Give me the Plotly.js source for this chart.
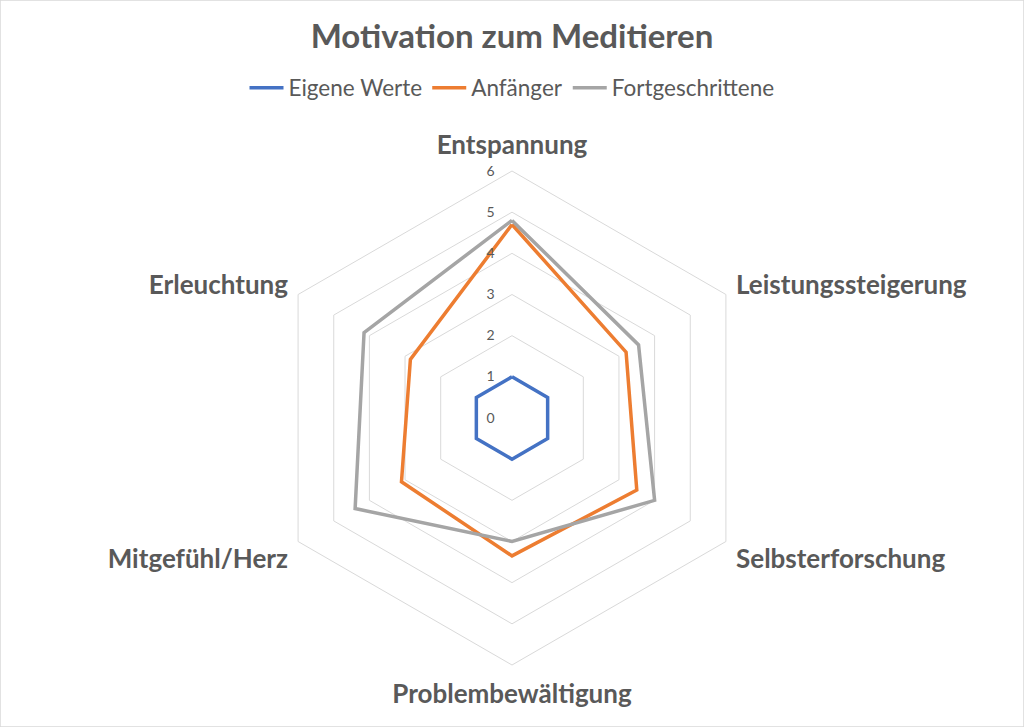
<!DOCTYPE html>
<html>
<head>
<meta charset="utf-8">
<script src="https://cdn.plot.ly/plotly-3.0.1.min.js"></script>
<style>
  html, body { margin: 0; padding: 0; background: #fff; }
  #chart { width: 1024px; height: 727px; }
</style>
</head>
<body>
<div id="chart"></div>
<script>
// Kategorien im Uhrzeigersinn, oben beginnend
const categories = ['Entspannung', 'Leistungssteigerung', 'Selbsterforschung',
                    'Problembewältigung', 'Mitgefühl/Herz', 'Erleuchtung'];

const seriesNames = ['Eigene Werte', 'Anfänger', 'Fortgeschrittene'];
const eigeneWerte = [1, 1, 1, 1, 1, 1];
const anfaenger = [4.7, 3.2, 3.5, 3.35, 3.1, 2.85];
const fortgeschrittene = [4.8, 3.55, 4.0, 3.0, 4.4, 4.15];

const radialTicks = [0, 1, 2, 3, 4, 5, 6];

const colors = ['#4472C4', '#ED7D31', '#A5A5A5'];
const textColor = '#595959';
const gridColor = '#D9D9D9';
const font = 'Lato, "Open Sans", sans-serif';

// Linie schliessen: ersten Punkt am Ende wiederholen
const closed = (arr) => arr.concat([arr[0]]);

const traces = [eigeneWerte, anfaenger, fortgeschrittene].map((vals, i) => ({
    type: 'scatterpolar',
    mode: 'lines',
    r: closed(vals),
    theta: closed(categories),
    name: seriesNames[i],
    line: { color: colors[i], width: 3.5 },
    hoverinfo: 'skip'
}));

const layout = {
    width: 1024,
    height: 727,
    margin: { l: 0, r: 0, t: 0, b: 0 },
    paper_bgcolor: '#ffffff',
    font: { family: font, color: textColor },
    title: {
        text: '<b>Motivation zum Meditieren</b>',
        font: { family: font, size: 33, color: textColor },
        x: 0.5, xanchor: 'center',
        y: 1 - 36 / 727, yanchor: 'middle', yref: 'container'
    },
    showlegend: true,
    legend: {
        orientation: 'h',
        x: 0.5, xanchor: 'center',
        y: 1 - 88 / 727, yanchor: 'middle',
        font: { family: font, size: 22.5, color: textColor },
        itemwidth: 34,
        tracegroupgap: 0
    },
    polar: {
        domain: {
            x: [(512 - 247) / 1024, (512 + 247) / 1024],
            y: [(727 - 418 - 247) / 727, (727 - 418 + 247) / 727]
        },
        bgcolor: '#ffffff',
        gridshape: 'linear',
        radialaxis: {
            range: [0, 6],
            tickvals: radialTicks,
            showline: false,
            ticks: 'outside',
            ticklen: 12,
            tickcolor: 'rgba(0,0,0,0)',
            tickangle: 90,
            gridcolor: gridColor,
            gridwidth: 1,
            angle: 90,
            side: 'counterclockwise',
            tickfont: { family: font, size: 14, color: textColor }
        },
        angularaxis: {
            rotation: 90,
            direction: 'clockwise',
            showgrid: false,
            showline: true,
            linecolor: gridColor,
            linewidth: 1,
            ticks: 'outside',
            ticklen: 6,
            tickcolor: 'rgba(0,0,0,0)',
            tickfont: { family: font, size: 26, color: textColor },
            tickprefix: '<b>',
            ticksuffix: '</b>'
        }
    },
    shapes: [{
        type: 'rect', xref: 'paper', yref: 'paper',
        x0: 0, x1: 1, y0: 0, y1: 1,
        line: { color: gridColor, width: 1.5 }
    }]
};

Plotly.newPlot('chart', traces, layout, { staticPlot: true });
</script>
</body>
</html>
